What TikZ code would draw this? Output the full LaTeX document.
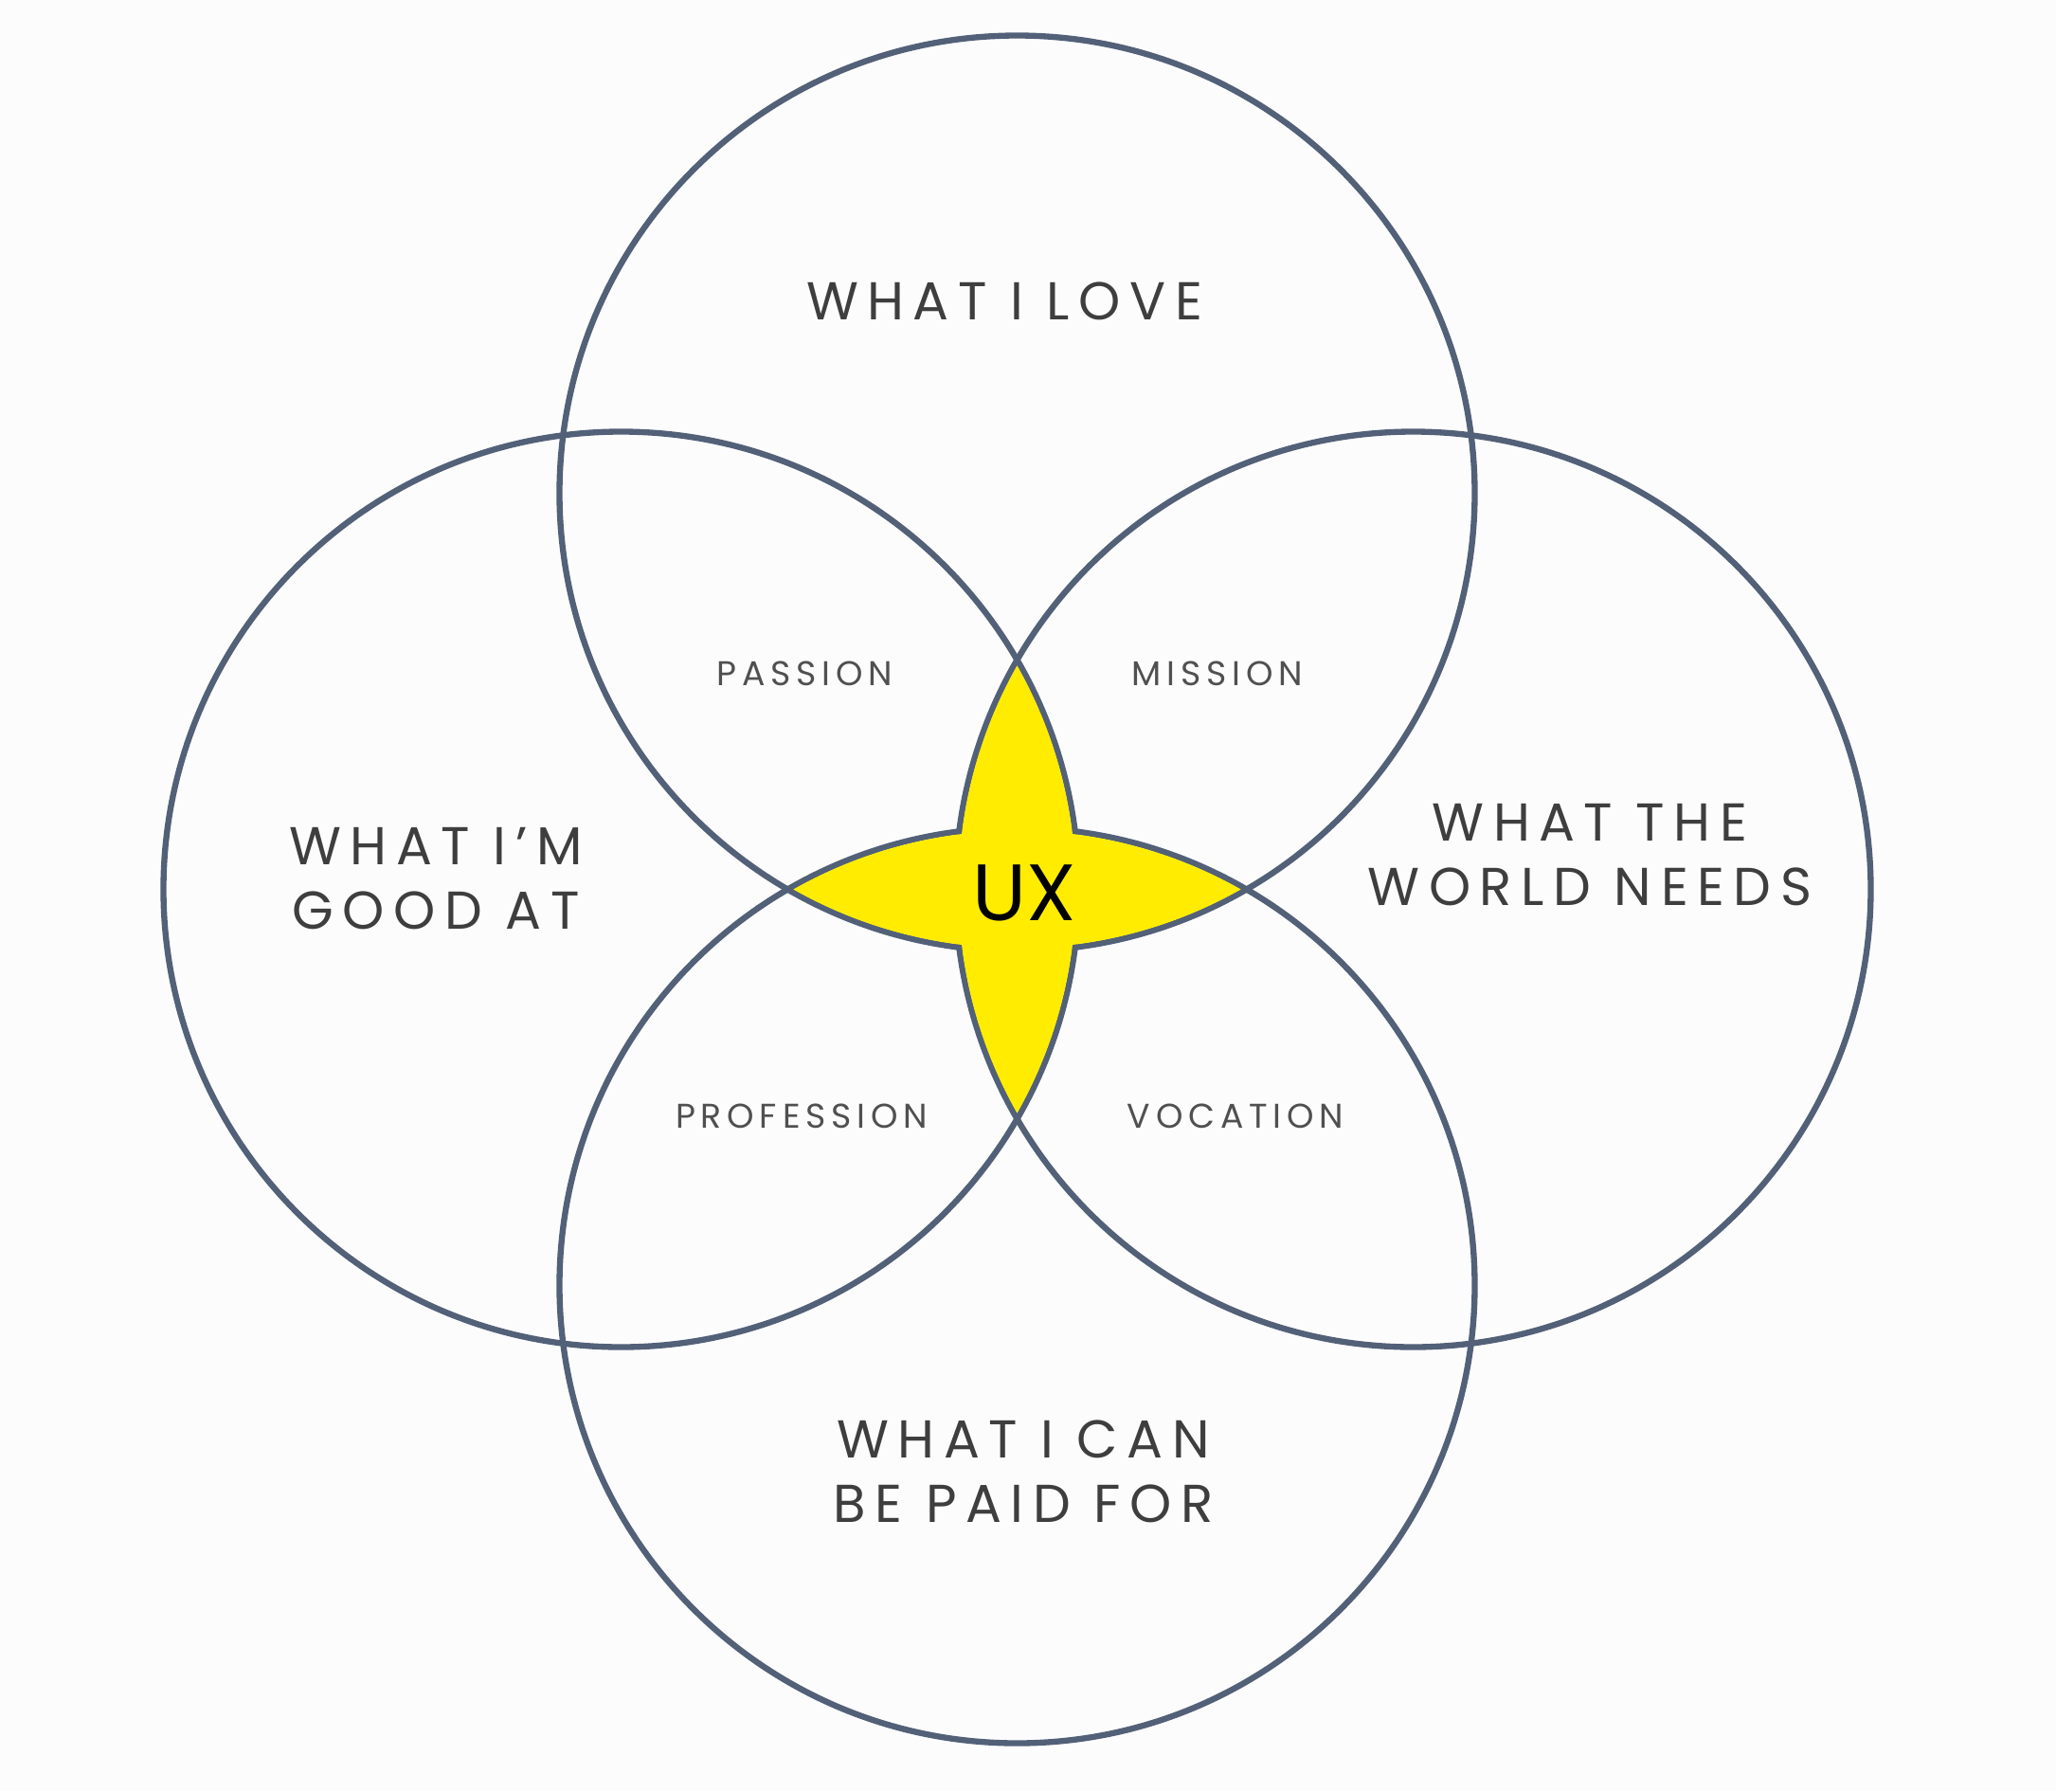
\documentclass[tikz,border=0pt]{standalone}
\usepackage{fontspec}
\newfontfamily\lblfont[LetterSpace=17]{Poppins}
\newfontfamily\smlfont[LetterSpace=16]{Poppins}
\newfontfamily\uxfont{Poppins}
\definecolor{bgcol}{RGB}{252,252,252}
\definecolor{ringcol}{RGB}{82,96,120}
\definecolor{txtcol}{RGB}{62,62,62}
\definecolor{smallcol}{RGB}{80,80,80}
\definecolor{starcol}{RGB}{255,236,0}
\tikzset{
  ring/.style={draw=ringcol, line width=1.8pt},
  biglabel/.style={text=txtcol, font=\lblfont\fontsize{16}{19.5}\selectfont, align=center, inner sep=0pt},
  smalllabel/.style={text=smallcol, font=\smlfont\fontsize{10.3}{12}\selectfont, inner sep=0pt},
  uxlabel/.style={text=black, font=\uxfont\fontsize{24}{27}\selectfont, inner sep=0pt}
}
\begin{document}
\begin{tikzpicture}
\fill[bgcol] (0,0) rectangle (21.7,-18.9);
\useasboundingbox (0,0) rectangle (21.7,-18.9);
\def\rr{4.83}
\def\ri{4.80}
\coordinate (T) at (10.735,-5.205);
\coordinate (B) at (10.735,-13.565);
\coordinate (L) at (6.555,-9.385);
\coordinate (R) at (14.915,-9.385);
% rings
\draw[ring] (T) circle (\rr);
\draw[ring] (B) circle (\rr);
\draw[ring] (L) circle (\rr);
\draw[ring] (R) circle (\rr);
% yellow star: union of the two lenses, laid over the inner arcs
\begin{scope}
  \clip (T) circle (\ri);
  \fill[starcol] (B) circle (\ri);
\end{scope}
\begin{scope}
  \clip (L) circle (\ri);
  \fill[starcol] (R) circle (\ri);
\end{scope}
% labels
\node[biglabel] (love) at (10.60,-3.18) {WHAT I LOVE};
\node[biglabel] (good) at (4.60,-9.27) {WHAT I’M\\GOOD AT};
\node[biglabel] (world) at (16.78,-9.02) {WHAT THE\\WORLD NEEDS};
\node[biglabel] (paid) at (10.80,-15.53) {WHAT I CAN\\BE PAID FOR};
\node[smalllabel] (passion) at (8.49,-7.11) {PASSION};
\node[smalllabel] (mission) at (12.85,-7.11) {MISSION};
\node[smalllabel] (profession) at (8.46,-11.78) {PROFESSION};
\node[smalllabel] (vocation) at (13.04,-11.78) {VOCATION};
\node[uxlabel] (ux) at (10.81,-9.42) {UX};
\end{tikzpicture}
\end{document}
